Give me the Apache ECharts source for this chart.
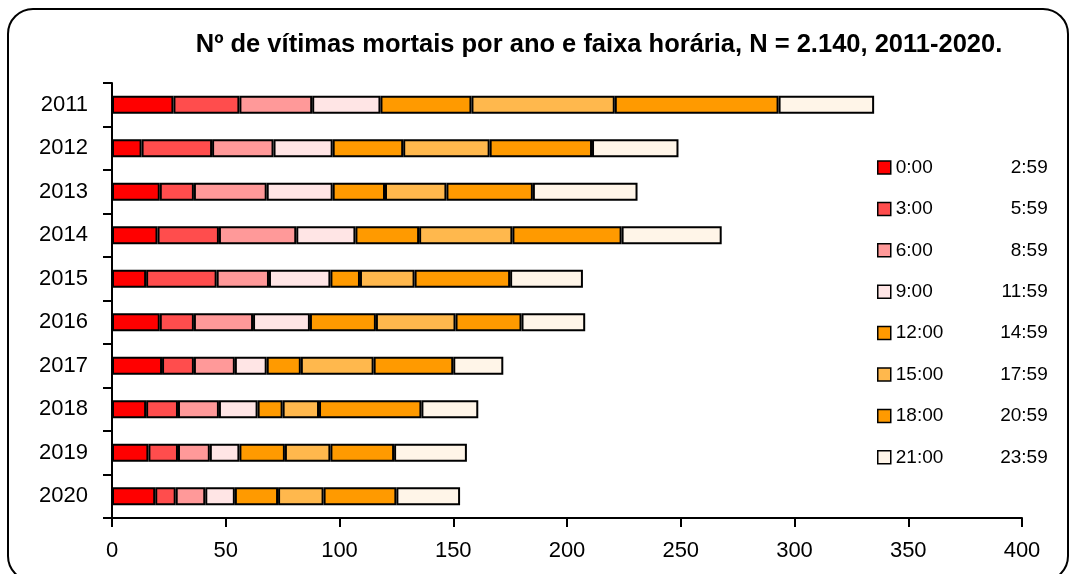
<!DOCTYPE html>
<html>
<head>
<meta charset="utf-8">
<script src="https://cdn.jsdelivr.net/npm/echarts@6/dist/echarts.min.js"></script>
<style>
html,body{margin:0;padding:0;background:#fff;}
#chart{width:1073px;height:574px;}
</style>
</head>
<body>
<div id="chart"></div>
<script>
const years = ['2011','2012','2013','2014','2015','2016','2017','2018','2019','2020'];
const bandNames = ['0:00|2:59','3:00|5:59','6:00|8:59','9:00|11:59','12:00|14:59','15:00|17:59','18:00|20:59','21:00|23:59'];
const h00 = [27,13,21,20,15,21,22,15,16,19];
const h03 = [29,31,15,27,31,15,14,14,13,9];
const h06 = [32,27,32,34,23,26,18,18,14,13];
const h09 = [30,26,29,26,27,25,14,17,13,13];
const h12 = [40,31,23,28,13,29,15,11,20,19];
const h15 = [63,38,27,41,24,35,32,16,20,20];
const h18 = [72,45,38,48,42,29,35,45,28,32];
const h21 = [42,38,46,44,32,28,22,25,32,28];
const xTicks = [0,50,100,150,200,250,300,350,400];
const seriesData = [h00,h03,h06,h09,h12,h15,h18,h21];
const colors = ['#FF0000','#FF4D4D','#FF9999','#FFE5E5','#FF9A00','#FFB84D','#FF9A00','#FFF5E8'];

const chart = echarts.init(document.getElementById('chart'));
const font = '"Liberation Sans", "Noto Sans", sans-serif';
chart.setOption({
  animation: false,
  backgroundColor: '#fff',
  title: {
    text: 'Nº de vítimas mortais por ano e faixa horária, N = 2.140, 2011-2020.',
    left: 594, top: 27, textAlign: 'center',
    textStyle: {fontFamily: font, fontWeight: 'bold', fontSize: 25.5, color: '#000'}
  },
  graphic: [{
    type: 'rect', shape: {x: 8, y: 9, width: 1060, height: 572, r: 25},
    style: {fill: 'none', stroke: '#000', lineWidth: 2}, silent: true
  }],
  legend: {
    orient: 'vertical', left: 872, top: 153, itemGap: 22.4,
    itemWidth: 13, itemHeight: 13, icon: 'rect',
    itemStyle: {borderColor: '#000', borderWidth: 1.5},
    data: bandNames,
    formatter: function(n){ const p = n.split('|'); return '{a|' + p[0] + '}{b|' + p[1] + '}'; },
    textStyle: {
      fontFamily: font, fontSize: 19, color: '#000', padding: [0,0,0,0],
      rich: {
        a: {fontFamily: font, fontSize: 19, color: '#000', width: 97, lineHeight: 20},
        b: {fontFamily: font, fontSize: 19, color: '#000', width: 55, align: 'right', lineHeight: 20}
      }
    }
  },
  grid: {left: 112, right: 51, top: 83, bottom: 56, containLabel: false},
  xAxis: {
    type: 'value', min: 0, max: 400, interval: 50,
    splitLine: {show: false},
    axisLine: {show: true, lineStyle: {color: '#000', width: 2}},
    axisTick: {show: true, length: 9, lineStyle: {color: '#000', width: 2}},
    axisLabel: {fontFamily: font, fontSize: 22, color: '#000', margin: 22,
      formatter: function(v){ return xTicks.indexOf(v) >= 0 ? String(v) : ''; }}
  },
  yAxis: {
    type: 'category', data: years, inverse: true,
    axisLine: {show: true, lineStyle: {color: '#000', width: 2}},
    axisTick: {show: true, length: 9, lineStyle: {color: '#000', width: 2}},
    axisLabel: {fontFamily: font, fontSize: 22, color: '#000', margin: 24}
  },
  series: seriesData.map(function(d, i){
    return {
      name: bandNames[i], type: 'bar', stack: 'total', data: d,
      barWidth: 18,
      itemStyle: {color: colors[i], borderColor: '#000', borderWidth: 2}
    };
  })
});
</script>
</body>
</html>
